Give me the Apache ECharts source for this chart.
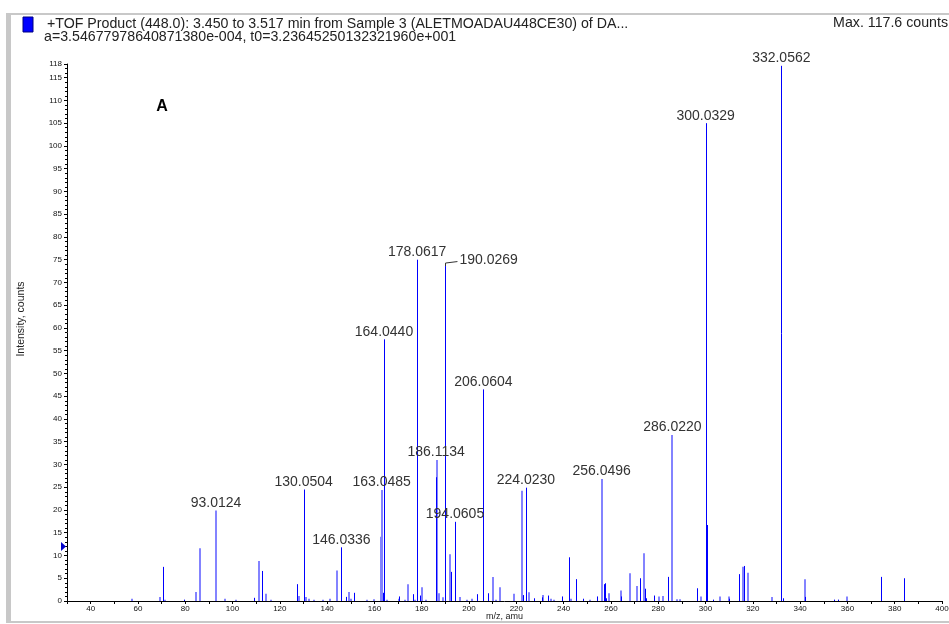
<!DOCTYPE html>
<html><head><meta charset="utf-8">
<script src="https://cdn.jsdelivr.net/npm/echarts@6/dist/echarts.min.js"></script>
<style>html,body{margin:0;padding:0;background:#fff}#c{width:949px;height:624px}</style>
</head><body><div id="c"></div>
<script>
// ---- text ----
const titleLine1 = "+TOF Product (448.0): 3.450 to 3.517 min from Sample 3 (ALETMOADAU448CE30) of DA...";
const titleLine2 = "a=3.54677978640871380e-004, t0=3.23645250132321960e+001";
const maxText = "Max. 117.6 counts";
const panelLabel = "A";
const xAxisName = "m/z, amu";
const yAxisName = "Intensity, counts";
// ---- axis ranges ----
const xMin = 30, xMax = 400, xStep = 10, xLabelStep = 20;
const yMin = 0, yMax = 118, yStep = 5;
const thresholdLevel = 12;
// ---- peaks [m/z, intensity] ----
const peaksDark = [
 [70.5,7.5],[79.3,0.3],[109.2,0.7],[112.3,6.6],[127.1,3.7],[130.05,24.5],[130.35,23.8],
 [145.8,1.0],[146.03,11.8],[148.1,0.9],[151.2,1.8],[163.5,1.8],[164.04,57.5],[170.2,1.0],
 [176.2,1.5],[178.06,75.0],[179.1,1.2],[186.11,27.2],[190.03,73.6],[192.4,6.4],[194.06,17.4],
 [203.3,1.5],[206.06,46.5],[208.2,1.7],[223.0,1.3],[224.02,24.9],[227.3,0.6],[231.0,0.8],
 [233.3,1.2],[239.2,1.0],[242.2,9.6],[245.2,4.8],[248.2,0.5],[254.1,1.0],[256.9,3.7],
 [257.3,3.9],[258.0,0.6],[264.2,1.0],[272.2,5.0],[274.3,2.7],[275.0,0.6],[278.1,1.2],
 [284.0,5.3],[296.2,2.8],[300.03,105.0],[300.45,16.7],[303.3,0.3],[310.0,0.5],[314.0,5.9],
 [316.3,7.7],[331.9,4.2],[332.06,117.6],[332.6,0.6],[342.0,0.9],[354.3,0.3],[356.0,0.3],
 [374.0,5.3],[384.1,5.0]
];
const peaksLight = [
 [57.5,0.5],[69.2,0.9],[71.6,0.3],[84.6,2.0],[86.2,11.6],[93.01,19.9],[96.6,0.5],[101.3,0.3],
 [111.2,8.8],[114.3,1.6],[116.4,0.3],[128.2,1.1],[131.2,0.9],[132.2,0.5],[134.3,0.3],[138.2,0.3],
 [141.0,0.5],[144.3,6.7],[149.4,2.0],[150.0,0.5],[156.9,0.3],[159.7,0.4],[162.6,14.1],[163.05,24.4],
 [165.4,0.3],[170.5,0.5],[173.0,0.3],[174.3,3.7],[177.2,0.3],[180.2,3.0],[182.0,0.3],[186.3,31.0],
 [187.2,1.7],[189.0,0.8],[192.0,10.3],[196.2,0.9],[199.0,0.3],[201.3,0.5],[210.1,5.3],[211.2,0.3],
 [213.3,3.0],[219.2,1.6],[222.2,24.2],[225.2,1.9],[231.2,1.3],[234.6,0.5],[236.0,0.3],[243.3,0.5],
 [251.0,0.3],[256.05,26.8],[259.3,1.7],[264.4,2.3],[268.1,6.1],[271.1,3.3],[274.0,10.5],[280.2,1.0],
 [282.2,1.1],[286.02,36.5],[287.8,0.4],[289.2,0.4],[298.0,1.0],[306.3,1.0],[309.8,1.0],[315.9,7.5],
 [318.1,6.2],[328.1,0.9],[342.2,4.8],[359.9,1.0]
];
// ---- peak annotations [m/z, height of label anchor, text] ----
const peakLabels = [
 [93.0124,19.9,"93.0124"],[130.0504,24.5,"130.0504"],[146.0336,11.8,"146.0336"],
 [163.0485,24.4,"163.0485"],[164.0440,57.5,"164.0440"],[178.0617,75.0,"178.0617"],
 [186.1134,31.0,"186.1134"],[190.0269,73.6,"190.0269"],[194.0605,17.4,"194.0605"],
 [206.0604,46.5,"206.0604"],[224.0230,24.9,"224.0230"],[256.0496,26.8,"256.0496"],
 [286.0220,36.5,"286.0220"],[300.0329,105.0,"300.0329"],[332.0562,117.6,"332.0562"]
];
const leaderLabels = ["190.0269"]; // labels drawn beside their peak with a leader line

const FONT = "'Liberation Sans', Arial, sans-serif";
const DARK = '#0000ff', LIGHT = '#8383ff';
const LABEL_FONT = '14px ' + FONT;
const HEAD_FONT = '14.2px ' + FONT;

function peakRender(color, w) {
  return function (params, api) {
    const x = api.value(0), y = api.value(1);
    const p0 = api.coord([x, 0]), p1 = api.coord([x, y]);
    const px = w % 2 ? Math.round(p0[0]) + 0.5 : Math.round(p0[0]);
    return { type: 'line', shape: { x1: px, y1: p0[1], x2: px, y2: p1[1] },
      style: { stroke: color, lineWidth: w } };
  };
}
function labelRender(params, api) {
  const lab = peakLabels[params.dataIndex];
  const p = api.coord([lab[0], lab[1]]);
  if (leaderLabels.indexOf(lab[2]) >= 0) {
    const px = Math.round(p[0]) + 0.5;
    return { type: 'group', children: [
      { type: 'polyline', shape: { points: [[px, p[1]], [px, p[1] - 3], [p[0] + 12, p[1] - 4.5]] },
        style: { stroke: '#333', lineWidth: 1, fill: null } },
      { type: 'text', x: p[0] + 14, y: p[1] - 5.5,
        style: { text: lab[2], font: LABEL_FONT, fill: '#333', align: 'left', verticalAlign: 'middle' } }
    ]};
  }
  return { type: 'text', x: p[0], y: p[1] - 7.5,
    style: { text: lab[2], font: LABEL_FONT, fill: '#333', align: 'center', verticalAlign: 'middle' } };
}
function markerRender(params, api) {
  const p = api.coord([api.value(0), api.value(1)]);
  const x = p[0] - 1, y = p[1];
  return { type: 'polygon', shape: { points: [[x - 5, y - 4.5], [x, y], [x - 5, y + 4.5]] },
    style: { fill: '#0000cc' } };
}

const chart = echarts.init(document.getElementById('c'), null, { renderer: 'canvas' });
chart.setOption({
  animation: false,
  backgroundColor: '#fff',
  grid: { left: 67, right: 7, top: 64, bottom: 23, containLabel: false, outerBoundsMode: 'none' },
  xAxis: {
    type: 'value', min: xMin, max: xMax, interval: xStep,
    name: xAxisName, nameLocation: 'middle', nameGap: 11, nameMoveOverlap: false,
    nameTextStyle: { fontSize: 9, fontFamily: FONT, color: '#222' },
    axisLine: { lineStyle: { color: '#000', width: 1 } },
    axisTick: { length: 3, lineStyle: { color: '#000' } },
    axisLabel: { fontSize: 8, fontFamily: FONT, color: '#111', margin: 4,
      formatter: v => (v % xLabelStep === 0 ? String(v) : '') },
    splitLine: { show: false }
  },
  yAxis: {
    type: 'value', min: yMin, max: yMax, interval: yStep,
    axisLine: { show: true, lineStyle: { color: '#000', width: 1 } },
    axisTick: { show: true, length: 3, lineStyle: { color: '#000' } },
    minorTick: { show: true, splitNumber: 5, length: 2, lineStyle: { color: '#000' } },
    axisLabel: { fontSize: 8, fontFamily: FONT, color: '#111', margin: 5, showMaxLabel: true },
    splitLine: { show: false }
  },
  series: [
    { type: 'custom', name: 'light', data: peaksLight, encode: { x: 0, y: 1 }, renderItem: peakRender(LIGHT, 2), silent: true },
    { type: 'custom', name: 'dark', data: peaksDark, encode: { x: 0, y: 1 }, renderItem: peakRender(DARK, 1), silent: true },
    { type: 'custom', name: 'labels', data: peakLabels.map(l => [l[0], l[1]]), encode: { x: 0, y: 1 }, renderItem: labelRender, silent: true, clip: false },
    { type: 'custom', name: 'threshold', data: [[xMin, thresholdLevel]], encode: { x: 0, y: 1 }, renderItem: markerRender, silent: true, clip: false }
  ],
  graphic: [
    { type: 'rect', shape: { x: 6, y: 13, width: 943, height: 2 }, style: { fill: '#c8c8c8' } },
    { type: 'rect', shape: { x: 6, y: 13, width: 5, height: 610 }, style: { fill: '#c8c8c8' } },
    { type: 'rect', shape: { x: 6, y: 621, width: 943, height: 2 }, style: { fill: '#c8c8c8' } },
    { type: 'rect', shape: { x: 23, y: 17, width: 10, height: 15 }, style: { fill: '#0000ff', stroke: '#000080', lineWidth: 1 } },
    { type: 'text', x: 47, y: 24, style: { text: titleLine1, font: HEAD_FONT, fill: '#222', verticalAlign: 'middle' } },
    { type: 'text', x: 44, y: 37, style: { text: titleLine2, font: HEAD_FONT, fill: '#222', verticalAlign: 'middle' } },
    { type: 'text', x: 948, y: 23, style: { text: maxText, font: HEAD_FONT, fill: '#222', align: 'right', verticalAlign: 'middle' } },
    { type: 'text', x: 162, y: 107, style: { text: panelLabel, font: 'bold 16px ' + FONT, fill: '#000', align: 'center', verticalAlign: 'middle' } },
    { type: 'text', x: 21, y: 319, rotation: Math.PI / 2,
      style: { text: yAxisName, font: '10.5px ' + FONT, fill: '#222', align: 'center', verticalAlign: 'middle' } }
  ]
});
</script></body></html>
